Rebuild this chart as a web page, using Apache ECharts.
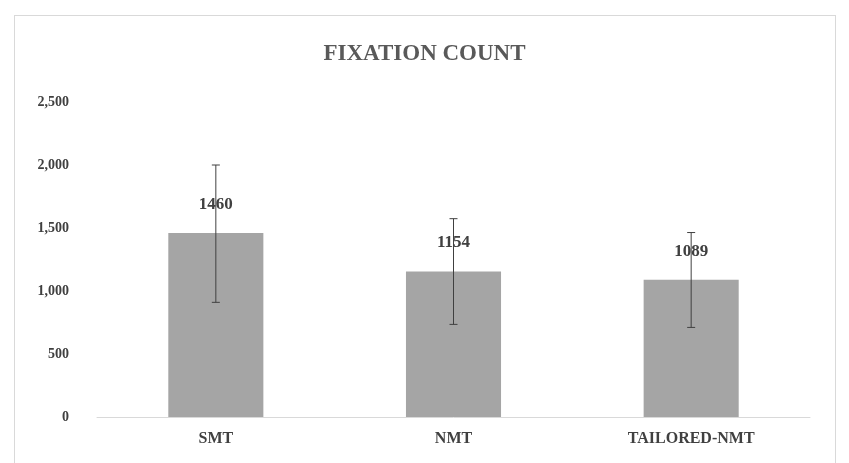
<!DOCTYPE html>
<html><head><meta charset="utf-8">
<script src="https://cdn.jsdelivr.net/npm/echarts@6/dist/echarts.min.js"></script>
<style>body{margin:0;background:#fff}#c{width:849px;height:463px}
#frame{position:absolute;left:14px;top:15px;width:820px;height:460px;border:1px solid #d9d9d9}</style>
</head><body><div id="frame"></div><div id="c"></div>
<script>
var categories = ['SMT', 'NMT', 'TAILORED-NMT']
var values = [1460, 1154, 1089]
var errLow = [910, 735, 711]
var errHigh = [2000, 1574, 1464]

var chart = echarts.init(document.getElementById('c'))
chart.setOption({
    animation: false,
    title: {
        text: 'FIXATION COUNT', left: 'center', top: 38,
        textStyle: {fontFamily: 'Liberation Sans Narrow', fontSize: 23, fontWeight: 'bold', color: '#595959'}
    },
    grid: {left: 97, right: 39, top: 102, bottom: 46},
    xAxis: {
        type: 'category', data: categories,
        axisTick: {show: false},
        axisLine: {lineStyle: {color: '#d9d9d9'}},
        axisLabel: {margin: 14, fontFamily: 'Liberation Sans Narrow', fontSize: 16, fontWeight: 'bold', color: '#404040'}
    },
    yAxis: {
        type: 'value', min: 0, max: 2500, interval: 500,
        splitLine: {show: false},
        axisLabel: {margin: 28, fontFamily: 'Liberation Sans Narrow', fontSize: 14, fontWeight: 'bold', color: '#404040'}
    },
    series: [{
        type: 'bar', data: values, barWidth: '40%',
        itemStyle: {color: '#a5a5a5'},
        label: {show: true, position: 'top', distance: 20, fontFamily: 'Liberation Sans Narrow', fontSize: 17, fontWeight: 'bold', color: '#404040'}
    }, {
        type: 'custom',
        data: categories.map(function (c, i) { return [i, errLow[i], errHigh[i]] }),
        renderItem: function (params, api) {
            var lo = api.coord([api.value(0), api.value(1)])
            var hi = api.coord([api.value(0), api.value(2)])
            var s = {stroke: '#404040', lineWidth: 1}
            return {type: 'group', children: [
                {type: 'line', shape: {x1: hi[0], y1: hi[1], x2: lo[0], y2: lo[1]}, style: s},
                {type: 'line', shape: {x1: hi[0] - 4, y1: hi[1], x2: hi[0] + 4, y2: hi[1]}, style: s},
                {type: 'line', shape: {x1: lo[0] - 4, y1: lo[1], x2: lo[0] + 4, y2: lo[1]}, style: s}
            ]}
        },
        z: 5
    }]
})
</script></body></html>
